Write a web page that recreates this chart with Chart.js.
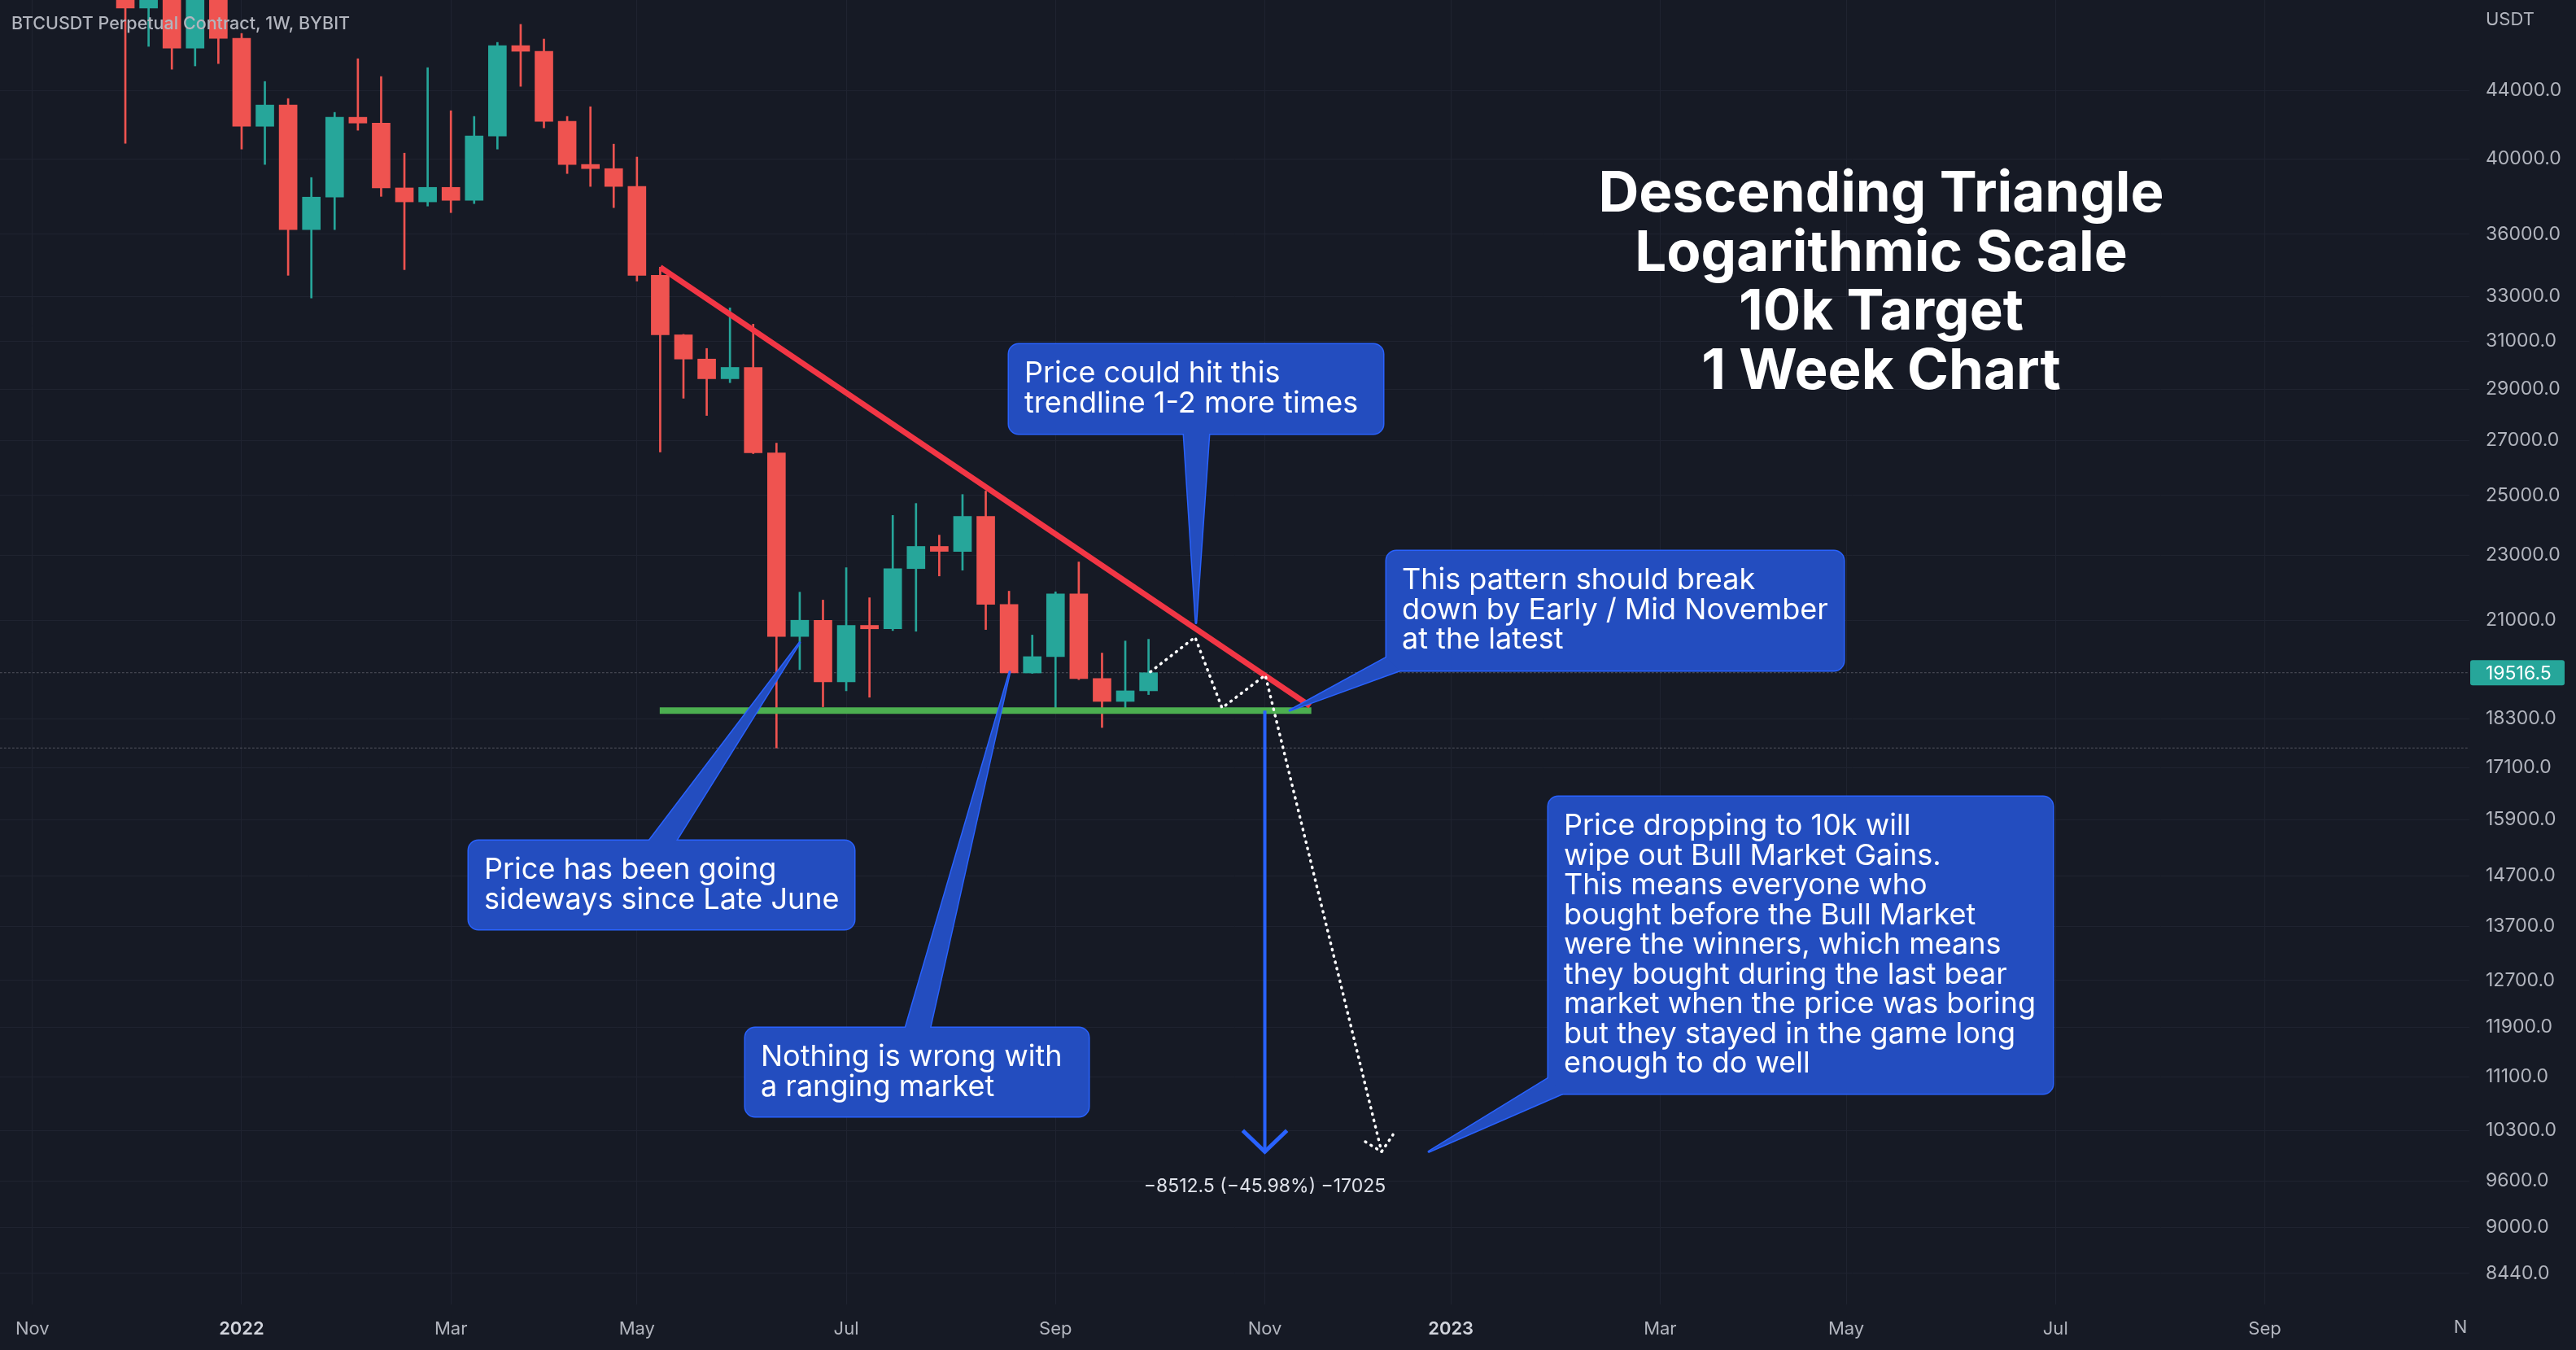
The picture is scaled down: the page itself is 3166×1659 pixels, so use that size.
<!DOCTYPE html>
<html>
<head>
<meta charset="utf-8">
<title>BTCUSDT 1W - Descending Triangle</title>
<script src="https://cdn.jsdelivr.net/npm/chart.js@4.4.1/dist/chart.umd.min.js"></script>
<style>
  html, body { margin: 0; padding: 0; background: #161a25; }
  canvas { display: block; }
</style>
</head>
<body>
<canvas id="chart" width="3166" height="1659"></canvas>
<script>
// ==========================
// Data (weekly candles)
// ==========================
const firstCandle = '2021-11-29';

const opens = [57000, 49360, 50100, 46680, 50800, 47320, 41850, 43110, 36230, 37910,
  42380, 42040, 38400, 37660, 38430, 37740, 41290, 46840, 46470, 42140,
  39680, 39450, 38480, 33990, 31280, 30240, 29420, 29890, 26530, 20530,
  21000, 19270, 20850, 20750, 22570, 23280, 23120, 24280, 21470, 19510,
  19960, 21790, 19360, 18750, 19030];
const highs = [59100, 51000, 50500, 51900, 52000, 47640, 44550, 43500, 38960, 42670,
  45990, 44860, 40310, 45420, 42770, 42430, 47050, 48250, 47270, 42430,
  43010, 40820, 40090, 34380, 31300, 30690, 32480, 31750, 26890, 21840,
  21600, 22600, 21670, 24310, 24720, 23650, 25030, 25150, 21870, 20570,
  21850, 22780, 20060, 20400, 20450];
const lows = [40870, 46790, 45320, 45530, 45680, 40540, 39680, 33990, 32930, 36230,
  41620, 37950, 34260, 37440, 37100, 37570, 40540, 44250, 41760, 39180,
  38480, 37360, 33720, 26560, 28630, 27950, 29260, 26500, 17570, 19600,
  18610, 19030, 18860, 20700, 20680, 22340, 22520, 20730, 19500, 19500,
  18560, 19330, 18080, 18580, 18930];
const closes = [49360, 50100, 46680, 50800, 47320, 41850, 43110, 36230, 37910, 42380,
  42040, 38400, 37660, 38430, 37740, 41290, 46840, 46470, 42140, 39680,
  39450, 38480, 33990, 31280, 30240, 29420, 29890, 26530, 20530, 21000,
  19270, 20850, 20750, 22570, 23280, 23120, 24280, 21470, 19510, 19960,
  21790, 19360, 18750, 19030, 19516.5];

// axis ticks
const yTicks = [44000, 40000, 36000, 33000, 31000, 29000, 27000, 25000, 23000, 21000,
  18300, 17100, 15900, 14700, 13700, 12700, 11900, 11100, 10300, 9600, 9000, 8440];
const xTickDates = ['2021-11-01', '2022-01-03', '2022-03-07', '2022-05-02', '2022-07-04', '2022-09-05',
  '2022-11-07', '2023-01-02', '2023-03-06', '2023-05-01', '2023-07-03', '2023-09-04'];
const xTickLabels = ['Nov', '2022', 'Mar', 'May', 'Jul', 'Sep', 'Nov', '2023', 'Mar', 'May', 'Jul', 'Sep'];

// drawings (x in weeks from 2022-01-03, y in USDT)
const lastPrice = 19516.5;
const priceLevels = [19516.5, 17570];
const trendLine = [[18.0, 34380], [45.95, 18630]];
const supportLine = [[17.98, 18513], [46.0, 18513]];
const pathDots = [[39.08, 19540], [41.0, 20510], [42.16, 18580], [44.02, 19450], [49.02, 10000]];
const pathHead = [[48.32, 10140], [49.02, 10000], [49.51, 10240]];
const targetArrow = [[44, 18513], [44, 10000]];
const targetHead = [[43.05, 10300], [44, 10000], [44.95, 10300]];
const targetLabel = '\u22128512.5 (\u221245.98%) \u221217025';

// ==========================
// Helpers & styles
// ==========================
const DAY = 864e5;
const ORIGIN = Date.UTC(2022, 0, 3);
function weekIndex(s) {
  const [y, m, d] = s.split('-').map(Number);
  return (Date.UTC(y, m - 1, d) - ORIGIN) / (7 * DAY);
}
const xTickWeeks = xTickDates.map(weekIndex);
const yearWeeks = [weekIndex('2022-01-03'), weekIndex('2023-01-02')];

const BG = '#161a25';
const GRID = '#1f2330';
const AXIS_TEXT = '#b2b5be';
const UP = '#26a69a';
const DOWN = '#ef5350';
const FONT = 'Inter';
const CALLOUT_FILL = '#234dbf';
const CALLOUT_BORDER = '#2962ff';

const candleX = opens.map((_, i) => weekIndex(firstCandle) + i);
const candleColors = opens.map((o, i) => closes[i] >= o ? UP : DOWN);
const toXY = pts => pts.map(p => ({ x: p[0], y: p[1] }));

// callout layout (pixels) with tips anchored to data
const callouts = [
  { lines: ['Price could hit this', 'trendline 1-2 more times'],
    box: [1240, 423, 460, 110], base: [[1455, 533], [1486, 533]], tip: [41.04, 20920] },
  { lines: ['This pattern should break', 'down by Early / Mid November', 'at the latest'],
    box: [1704, 677, 562, 147], base: [[1704, 808], [1720, 824]], tip: [45.07, 18513] },
  { lines: ['Price has been going', 'sideways since Late June'],
    box: [576, 1033, 474, 109], base: [[798, 1033], [831, 1033]], tip: [24.0, 20355] },
  { lines: ['Nothing is wrong with', 'a ranging market'],
    box: [916, 1263, 422, 109], base: [[1113, 1263], [1143, 1263]], tip: [33.03, 19540] },
  { lines: ['Price dropping to 10k will', 'wipe out Bull Market Gains.', 'This means everyone who',
      'bought before the Bull Market', 'were the winners, which means', 'they bought during the last bear',
      'market when the price was boring', 'but they stayed in the game long', 'enough to do well'],
    box: [1903, 979, 620, 365], base: [[1903, 1325], [1920, 1344]], tip: [51.05, 10000] }
];
const titleLines = ['Descending Triangle', 'Logarithmic Scale', '10k Target', '1 Week Chart'];

function roundRectPath(ctx, x, y, w, h, r) {
  ctx.beginPath();
  ctx.moveTo(x + r, y);
  ctx.lineTo(x + w - r, y);
  ctx.arcTo(x + w, y, x + w, y + r, r);
  ctx.lineTo(x + w, y + h - r);
  ctx.arcTo(x + w, y + h, x + w - r, y + h, r);
  ctx.lineTo(x + r, y + h);
  ctx.arcTo(x, y + h, x, y + h - r, r);
  ctx.lineTo(x, y + r);
  ctx.arcTo(x, y, x + r, y, r);
  ctx.closePath();
}

function drawCallout(ctx, chart, c) {
  const xs = chart.scales.x, ys = chart.scales.y;
  const [bx, by, bw, bh] = c.box;
  const tip = [xs.getPixelForValue(c.tip[0]), ys.getPixelForValue(c.tip[1])];
  const tri = () => {
    ctx.beginPath();
    ctx.moveTo(c.base[0][0], c.base[0][1]);
    ctx.lineTo(tip[0], tip[1]);
    ctx.lineTo(c.base[1][0], c.base[1][1]);
    ctx.closePath();
  };
  ctx.save();
  ctx.lineJoin = 'round';
  ctx.lineWidth = 3;
  ctx.strokeStyle = CALLOUT_BORDER;
  roundRectPath(ctx, bx, by, bw, bh, 12);
  ctx.stroke();
  tri();
  ctx.stroke();
  ctx.fillStyle = CALLOUT_FILL;
  roundRectPath(ctx, bx, by, bw, bh, 12);
  ctx.fill();
  tri();
  ctx.fill();
  ctx.fillStyle = '#ffffff';
  ctx.font = '36px ' + FONT;
  ctx.textAlign = 'left';
  ctx.textBaseline = 'alphabetic';
  c.lines.forEach((t, i) => ctx.fillText(t, bx + 19, by + 47 + i * 36.5));
  ctx.restore();
}

// ==========================
// Plugin: background, text, callouts, price tag
// ==========================
const overlayPlugin = {
  id: 'overlay',
  beforeDraw(chart) {
    const ctx = chart.ctx;
    ctx.save();
    ctx.fillStyle = BG;
    ctx.fillRect(0, 0, chart.width, chart.height);
    ctx.restore();
  },
  afterDatasetsDraw(chart) {
    const ctx = chart.ctx;
    const xs = chart.scales.x, ys = chart.scales.y;

    // measure label under the target arrow
    ctx.save();
    ctx.fillStyle = '#e0e3eb';
    ctx.font = '23px ' + FONT;
    ctx.textAlign = 'center';
    ctx.textBaseline = 'alphabetic';
    ctx.fillText(targetLabel, xs.getPixelForValue(targetArrow[1][0]), ys.getPixelForValue(targetArrow[1][1]) + 50);
    ctx.restore();

    callouts.forEach(c => drawCallout(ctx, chart, c));

    // title block
    ctx.save();
    ctx.fillStyle = '#ffffff';
    ctx.font = '700 69px ' + FONT;
    ctx.textAlign = 'center';
    titleLines.forEach((t, i) => ctx.fillText(t, 2312, 260 + i * 72.5));
    ctx.restore();

    // symbol header
    ctx.save();
    ctx.fillStyle = AXIS_TEXT;
    ctx.font = '500 21.5px ' + FONT;
    ctx.textAlign = 'left';
    ctx.fillText('BTCUSDT Perpetual Contract, 1W, BYBIT', 14, 36);
    ctx.restore();
  },
  afterDraw(chart) {
    const ctx = chart.ctx;
    const ys = chart.scales.y;
    const area = chart.chartArea;
    ctx.save();
    ctx.font = '22px ' + FONT;
    ctx.fillStyle = AXIS_TEXT;
    ctx.textBaseline = 'middle';
    ctx.fillText('USDT', area.right + 20, 24);
    ctx.font = '22px ' + FONT;
    ctx.textAlign = 'center';
    ctx.textBaseline = 'top';
    ctx.fillText('N', 3024, area.bottom + 17);

    // last price tag
    const py = ys.getPixelForValue(lastPrice);
    ctx.fillStyle = UP;
    roundRectPath(ctx, area.right + 1, py - 15.5, 116, 31, 3);
    ctx.fill();
    ctx.fillStyle = '#ffffff';
    ctx.textAlign = 'left';
    ctx.textBaseline = 'middle';
    ctx.font = '23px ' + FONT;
    ctx.fillText(lastPrice.toFixed(1), area.right + 20, py + 1);
    ctx.restore();
  }
};

// ==========================
// Chart
// ==========================
const lineDs = (data, color, width, order, dash) => ({
  type: 'line',
  data: toXY(data),
  borderColor: color,
  borderWidth: width,
  borderDash: dash || [],
  borderCapStyle: dash ? 'round' : 'butt',
  pointRadius: 0,
  tension: 0,
  fill: false,
  order
});

new Chart(document.getElementById('chart'), {
  type: 'bar',
  data: {
    datasets: [
      ...priceLevels.map(p => lineDs([[-20, p], [120, p]], 'rgba(150,154,165,0.45)', 1, 9, [2, 3])),
      {
        label: 'wicks',
        data: candleX.map((x, i) => ({ x, y: [lows[i], highs[i]] })),
        backgroundColor: candleColors,
        barThickness: 2,
        grouped: false,
        order: 8
      },
      {
        label: 'bodies',
        data: candleX.map((x, i) => ({ x, y: [opens[i], closes[i]] })),
        backgroundColor: candleColors,
        barThickness: 22,
        minBarLength: 3,
        grouped: false,
        order: 7
      },
      lineDs(supportLine, '#4caf50', 8, 6),
      lineDs(trendLine, '#f23645', 7, 5),
      lineDs(pathDots, '#ffffff', 3.5, 4, [1, 7]),
      lineDs(pathHead, '#ffffff', 3.5, 4, [1, 7]),
      lineDs(targetArrow, '#2962ff', 4, 3),
      lineDs(targetHead, '#2962ff', 5, 3)
    ]
  },
  options: {
    responsive: false,
    devicePixelRatio: 1,
    animation: false,
    events: [],
    layout: { padding: 0 },
    plugins: { legend: { display: false }, tooltip: { enabled: false } },
    scales: {
      x: {
        type: 'linear',
        min: -10.39,
        max: 95.8,
        offset: false,
        grid: { color: GRID, offset: false, drawTicks: false },
        border: { display: false },
        afterBuildTicks: s => { s.ticks = xTickWeeks.map(v => ({ value: v })); },
        afterFit: s => { s.height = 56; s.paddingLeft = 0; s.paddingRight = 0; },
        ticks: {
          autoSkip: false,
          maxRotation: 0,
          padding: 17,
          color: c => (c.tick && yearWeeks.includes(c.tick.value)) ? '#d1d4dc' : AXIS_TEXT,
          font: c => ({ family: FONT, size: 22, weight: (c.tick && yearWeeks.includes(c.tick.value)) ? '600' : '400' }),
          callback: v => xTickLabels[xTickWeeks.indexOf(v)]
        }
      },
      y: {
        type: 'logarithmic',
        position: 'right',
        min: 8080,
        max: 49920,
        grid: { color: GRID, drawTicks: false },
        border: { display: false },
        afterBuildTicks: s => { s.ticks = yTicks.map(v => ({ value: v })); },
        afterFit: s => { s.width = 131; s.paddingTop = 0; s.paddingBottom = 0; },
        ticks: {
          autoSkip: false,
          padding: 20,
          color: AXIS_TEXT,
          font: { family: FONT, size: 23 },
          callback: v => Number(v).toFixed(1)
        }
      }
    }
  },
  plugins: [overlayPlugin]
});
</script>
</body>
</html>
